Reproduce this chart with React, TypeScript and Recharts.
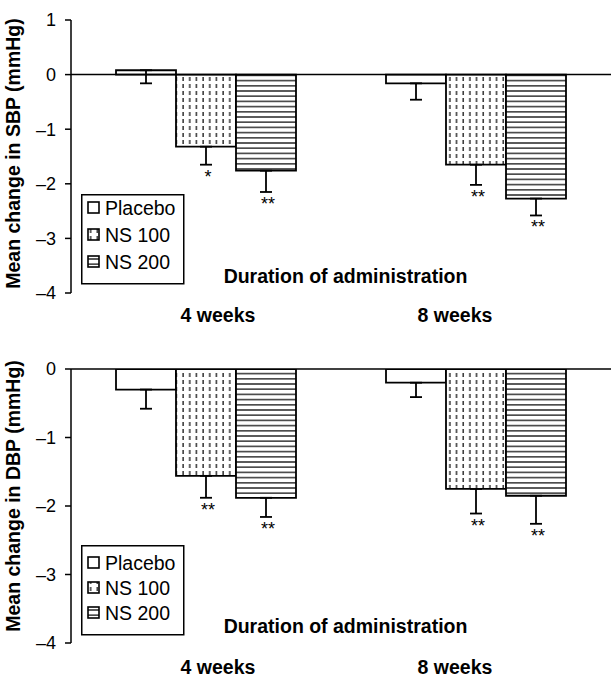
import React from 'react';
import { BarChart, Bar, XAxis, YAxis, ErrorBar, ReferenceLine, Legend, Label } from 'recharts';

const categories = ['4 weeks', '8 weeks'];
const seriesNames = ['Placebo', 'NS 100', 'NS 200'];

// Systolic BP (top panel)
const sbpPlacebo = [0.08, -0.16];
const sbpPlaceboErr = [0.24, 0.3];
const sbpNS100 = [-1.32, -1.65];
const sbpNS100Err = [0.33, 0.37];
const sbpNS200 = [-1.76, -2.27];
const sbpNS200Err = [0.39, 0.31];
const sbpNS100Stars = ['*', '**'];
const sbpNS200Stars = ['**', '**'];

// Diastolic BP (bottom panel)
const dbpPlacebo = [-0.3, -0.2];
const dbpPlaceboErr = [0.28, 0.21];
const dbpNS100 = [-1.56, -1.75];
const dbpNS100Err = [0.32, 0.36];
const dbpNS200 = [-1.88, -1.85];
const dbpNS200Err = [0.28, 0.41];
const dbpNS100Stars = ['**', '**'];
const dbpNS200Stars = ['**', '**'];

const noStars = ['', ''];

const sbpTicks = [-4, -3, -2, -1, 0, 1];
const dbpTicks = [-4, -3, -2, -1, 0];

const FONT = 'Liberation Sans, Arial, sans-serif';
const tickShift = [12, -21];

type Row = { cat: string; p: number; pe: number[]; n1: number; n1e: number[]; n2: number; n2e: number[] };

const buildRows = (p: number[], pe: number[], n1: number[], n1e: number[], n2: number[], n2e: number[]): Row[] =>
  categories.map((cat, i) => ({
    cat,
    p: p[i],
    pe: [pe[i], 0],
    n1: n1[i],
    n1e: [n1e[i], 0],
    n2: n2[i],
    n2e: [n2e[i], 0],
  }));

const sbpRows = buildRows(sbpPlacebo, sbpPlaceboErr, sbpNS100, sbpNS100Err, sbpNS200, sbpNS200Err);
const dbpRows = buildRows(dbpPlacebo, dbpPlaceboErr, dbpNS100, dbpNS100Err, dbpNS200, dbpNS200Err);

const fills = ['#ffffff', 'url(#patDash)', 'url(#patHoriz)'];

const makeStarLabel = (stars: string[], values: number[], errs: number[]) => (props: any) => {
  const { x, y, width, height, index } = props;
  const s = stars[index];
  if (!s) return null;
  const v = values[index];
  const bottom = Math.max(y, y + height);
  const px = Math.abs(height) / Math.abs(v);
  const capY = bottom + errs[index] * px;
  return (
    <text x={x + width / 2 + 2} y={capY + 18} textAnchor="middle" fontSize={18} fontFamily={FONT} fill="#000">
      {s}
    </text>
  );
};

const LegendBox = ({ firstOff, spacing }: { firstOff: number; spacing: number }) => (
  <svg width={104} height={91} style={{ display: 'block' }}>
    <rect x={0.75} y={0.75} width={102} height={89} fill="#fff" stroke="#000" strokeWidth={1.5} />
    {seriesNames.map((name, i) => {
      const my = firstOff + i * spacing;
      return (
        <g key={name}>
          <rect x={7} y={my} width={11} height={11} fill={fills[i]} stroke="#000" strokeWidth={1.6} />
          <text x={24} y={my + 6} dominantBaseline="central" fontSize={19.5} fontFamily={FONT} fill="#000">
            {name}
          </text>
        </g>
      );
    })}
  </svg>
);

type PanelProps = {
  rows: Row[];
  values: number[][];
  errs: number[][];
  stars: string[][];
  domain: [number, number];
  ticks: number[];
  yLabel: string;
  height: number;
  marginTop: number;
  marginBottom: number;
  tickBaseline: number;
  yLabelShift: number;
  legendTop: number;
  legendFirst: number;
  legendSpacing: number;
};

const Panel = (pp: PanelProps) => {
  const keys = ['p', 'n1', 'n2'];
  const errKeys = ['pe', 'n1e', 'n2e'];
  return (
    <BarChart
      width={611}
      height={pp.height}
      data={pp.rows}
      margin={{ top: pp.marginTop, right: 0, left: 0, bottom: pp.marginBottom }}
      barCategoryGap={45}
      barGap={0}
      style={{ fontFamily: FONT }}
    >
      <XAxis
        dataKey="cat"
        height={40}
        axisLine={false}
        tickLine={false}
        tickSize={0}
        tickMargin={0}
        interval={0}
        tick={(t: any) => (
          <text
            x={t.x + tickShift[t.index]}
            y={t.y + pp.tickBaseline}
            textAnchor="middle"
            fontSize={19.5}
            fontWeight="bold"
            fontFamily={FONT}
            fill="#000"
          >
            {t.payload.value}
          </text>
        )}
      >
        <Label
          content={(lp: any) => {
            const vb = lp.viewBox;
            return (
              <text
                x={vb.x + vb.width / 2 + 4.5}
                y={vb.y - 10}
                textAnchor="middle"
                fontSize={19.5}
                fontWeight="bold"
                fontFamily={FONT}
                fill="#000"
              >
                Duration of administration
              </text>
            );
          }}
        />
      </XAxis>
      <YAxis
        width={71}
        domain={pp.domain}
        ticks={pp.ticks}
        interval={0}
        allowDataOverflow
        axisLine={{ stroke: '#000', strokeWidth: 1.5 }}
        tickLine={{ stroke: '#000', strokeWidth: 1.5 }}
        tickSize={6}
        tickMargin={9}
        tick={{ fill: '#000', fontSize: 18, fontFamily: FONT }}
        tickFormatter={(v: number) => (v < 0 ? '\u2013' + Math.abs(v) : String(v))}
      >
        <Label
          content={(lp: any) => {
            const vb = lp.viewBox;
            const cy = vb.y + vb.height / 2 + pp.yLabelShift;
            return (
              <text
                x={20}
                y={cy}
                transform={`rotate(-90, 20, ${cy})`}
                textAnchor="middle"
                fontSize={19.5}
                fontWeight="bold"
                fontFamily={FONT}
                fill="#000"
              >
                {pp.yLabel}
              </text>
            );
          }}
        />
      </YAxis>
      <ReferenceLine y={0} stroke="#000" strokeWidth={1.5} />
      <Legend
        layout="horizontal"
        verticalAlign="middle"
        align="center"
        wrapperStyle={{ left: 81, top: pp.legendTop, width: 104, height: 91 }}
        content={() => <LegendBox firstOff={pp.legendFirst} spacing={pp.legendSpacing} />}
      />
      {keys.map((k, i) => (
        <Bar
          key={k}
          dataKey={k}
          name={seriesNames[i]}
          fill={fills[i]}
          stroke="#000"
          strokeWidth={1.8}
          isAnimationActive={false}
          label={makeStarLabel(pp.stars[i], pp.values[i], pp.errs[i])}
        >
          <ErrorBar dataKey={errKeys[i]} direction="y" width={6} stroke="#000" strokeWidth={1.8} />
        </Bar>
      ))}
    </BarChart>
  );
};

export default function App() {
  return (
    <div style={{ position: 'absolute', left: 0, top: 0, width: 611, height: 679, overflow: 'hidden', background: '#fff' }}>
      <svg width={0} height={0} style={{ position: 'absolute' }}>
        <defs>
          <pattern id="patDash" patternUnits="userSpaceOnUse" width={6.67} height={7}>
            <rect x={0} y={0} width={6.67} height={7} fill="#fff" />
            <line x1={3} y1={0} x2={3} y2={4} stroke="#111" strokeWidth={1.3} />
          </pattern>
          <pattern id="patHoriz" patternUnits="userSpaceOnUse" width={6} height={5.2}>
            <rect x={0} y={0} width={6} height={5.2} fill="#fff" />
            <line x1={0} y1={2.6} x2={6} y2={2.6} stroke="#111" strokeWidth={1.3} />
          </pattern>
        </defs>
      </svg>
      <div style={{ position: 'absolute', left: 0, top: 0 }}>
        <Panel
          rows={sbpRows}
          values={[sbpPlacebo, sbpNS100, sbpNS200]}
          errs={[sbpPlaceboErr, sbpNS100Err, sbpNS200Err]}
          stars={[noStars, sbpNS100Stars, sbpNS200Stars]}
          domain={[-4, 1]}
          ticks={sbpTicks}
          yLabel="Mean change in SBP (mmHg)"
          height={345}
          marginTop={20}
          marginBottom={12}
          tickBaseline={29}
          yLabelShift={-3}
          legendTop={194}
          legendFirst={8}
          legendSpacing={27}
        />
      </div>
      <div style={{ position: 'absolute', left: 0, top: 345 }}>
        <Panel
          rows={dbpRows}
          values={[dbpPlacebo, dbpNS100, dbpNS200]}
          errs={[dbpPlaceboErr, dbpNS100Err, dbpNS200Err]}
          stars={[noStars, dbpNS100Stars, dbpNS200Stars]}
          domain={[-4, 0]}
          ticks={dbpTicks}
          yLabel="Mean change in DBP (mmHg)"
          height={340}
          marginTop={24}
          marginBottom={2}
          tickBaseline={31}
          yLabelShift={-10}
          legendTop={200}
          legendFirst={12}
          legendSpacing={25}
        />
      </div>
    </div>
  );
}
